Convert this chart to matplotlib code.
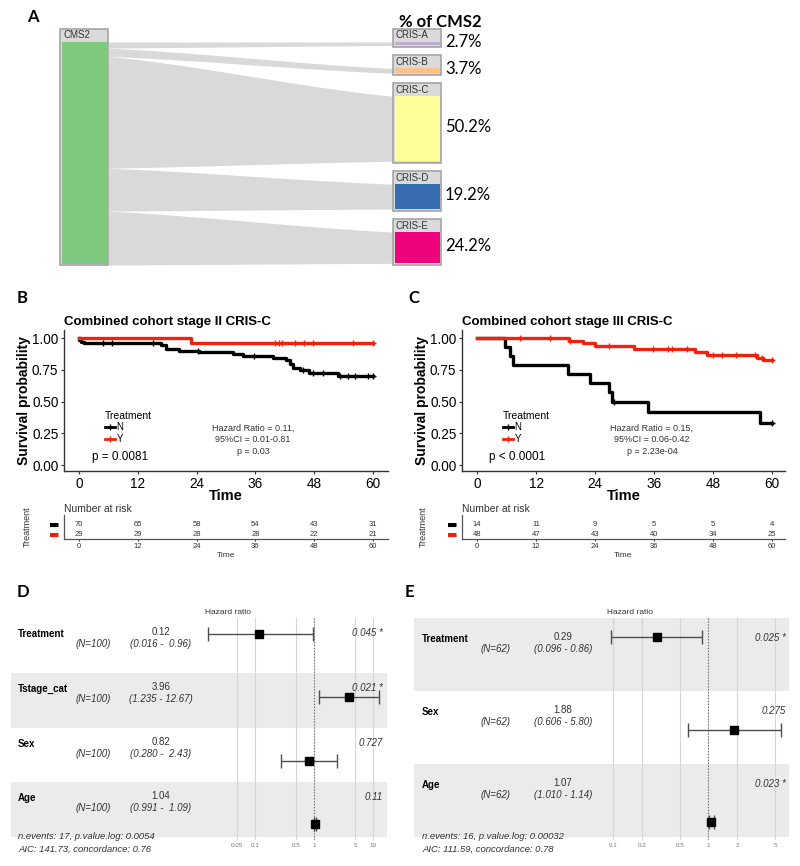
import matplotlib
matplotlib.use('Agg')
import matplotlib.pyplot as plt
import numpy as np
from matplotlib.lines import Line2D
from matplotlib.patches import Rectangle

plt.rcParams['font.family'] = ['Liberation Sans', 'DejaVu Sans']

# ---------------- data ----------------
# panel A: CMS2 -> CRIS split (% of CMS2)
cris_names = ['CRIS-A', 'CRIS-B', 'CRIS-C', 'CRIS-D', 'CRIS-E']
cris_pct = [2.7, 3.7, 50.2, 19.2, 24.2]
cris_colors = ['#BEAED4', '#FDC086', '#FFFF99', '#386CB0', '#F0027F']

# panel B: stage II CRIS-C, KM steps
b_n_t = [0, 0.1, 0.5, 1.0, 16.8, 17.8, 20.5, 24.5, 31.4, 33.5, 39.6, 42.3, 43.0, 43.7, 45.0, 47.0, 52.9, 60]
b_n_s = [1.0, 0.986, 0.971, 0.957, 0.943, 0.914, 0.900, 0.886, 0.871, 0.857, 0.842, 0.826, 0.795, 0.765, 0.745, 0.728, 0.700, 0.700]
b_y_t = [0, 22.9, 60]
b_y_s = [1.0, 0.963, 0.963]
b_n_cens = [4.9, 6.8, 15.1, 24.3, 35.8, 45.7, 47.8, 49.8, 53.2, 54.9, 56.3, 59.0, 60]
b_y_cens = [39.9, 40.9, 41.4, 44.0, 45.9, 47.8, 55.9, 60]
b_risk_n = [70, 65, 58, 54, 43, 31]
b_risk_y = [29, 29, 28, 28, 22, 21]

# panel C: stage III CRIS-C
c_n_t = [0, 5.6, 6.8, 7.3, 18.5, 22.9, 26.9, 27.5, 34.8, 57.6, 60]
c_n_s = [1.0, 0.929, 0.857, 0.786, 0.714, 0.643, 0.571, 0.500, 0.417, 0.333, 0.333]
c_y_t = [0, 18.8, 21.6, 23.9, 31.9, 44.4, 46.8, 56.9, 58.1, 60]
c_y_s = [1.0, 0.979, 0.958, 0.937, 0.914, 0.890, 0.865, 0.843, 0.826, 0.826]
c_n_cens = [27.9, 60]
c_y_cens = [8.8, 14.8, 19.0, 26.8, 35.8, 38.8, 39.7, 42.7, 48.1, 49.8, 52.7, 56.6, 58.0, 60]
c_risk_n = [14, 11, 9, 5, 5, 4]
c_risk_y = [48, 47, 43, 40, 34, 25]

risk_times = [0, 12, 24, 36, 48, 60]

# panel D forest
d_vars = ['Treatment', 'Tstage_cat', 'Sex', 'Age']
d_n = [100, 100, 100, 100]
d_hr = [0.12, 3.96, 0.82, 1.04]
d_lo = [0.016, 1.235, 0.280, 0.991]
d_hi = [0.96, 12.67, 2.43, 1.09]
d_p = ['0.045 *', '0.021 *', '0.727', '0.11']
d_foot = ['n.events: 17, p.value.log: 0.0054', 'AIC: 141.73, concordance: 0.76']
d_ticks = [0.05, 0.1, 0.5, 1, 5, 10]

# panel E forest
e_vars = ['Treatment', 'Sex', 'Age']
e_n = [62, 62, 62]
e_hr = [0.29, 1.88, 1.07]
e_lo = [0.096, 0.606, 1.010]
e_hi = [0.86, 5.80, 1.14]
e_p = ['0.025 *', '0.275', '0.023 *']
e_foot = ['n.events: 16, p.value.log: 0.00032', 'AIC: 111.59, concordance: 0.78']
e_ticks = [0.1, 0.2, 0.5, 1, 2, 5]

RED = '#F4200C'
W, H = 800, 866

fig = plt.figure(figsize=(W / 100, H / 100), dpi=100)
fig.patch.set_facecolor('white')

# pixel-space layers: bg under the data axes (sankey, bands), fg on top (texts)
bg = fig.add_axes([0, 0, 1, 1], zorder=0)
fg = fig.add_axes([0, 0, 1, 1], zorder=5)
for a in (bg, fg):
    a.set_xlim(0, W)
    a.set_ylim(H, 0)
    a.axis('off')
    a.patch.set_alpha(0)


def px_axes(l, t, r, b, z=2):
    a = fig.add_axes([l / W, 1 - b / H, (r - l) / W, (b - t) / H], zorder=z)
    a.patch.set_alpha(0)
    return a


# ---------------- panel A ----------------
hdr = 13
green_top, green_h = 42, 223
lx0, lx1, rx0, rx1 = 60, 108, 393, 441
sl = green_h / sum(cris_pct)
sr = 0.58 * sl

tops = []
y = 29
for p in cris_pct:
    tops.append(y)
    y += hdr + p * sr + 2 + 8

xs = np.linspace(lx1, rx0, 120)
tt = (xs - lx1) / (rx0 - lx1)
ease = 0.7 * tt + 0.3 * (3 * tt ** 2 - 2 * tt ** 3)
cum = green_top
for p, top in zip(cris_pct, tops):
    a0, a1 = cum, cum + p * sl
    b0 = top + hdr
    b1 = b0 + p * sr
    bg.fill_between(xs, a0 + (b0 - a0) * ease, a1 + (b1 - a1) * ease,
                    color='#d9d9d9', lw=0, zorder=1)
    cum = a1

bg.add_patch(Rectangle((lx0, 29), lx1 - lx0, green_top - 29 + green_h, fc='#dadada',
                       ec='#a5a5a5', lw=1.2, zorder=2))
bg.add_patch(Rectangle((lx0 + 1.5, green_top), lx1 - lx0 - 3, green_h - 1.5,
                       fc='#7FC97F', lw=0, zorder=3))
fg.text(lx0 + 3, 35.5, 'CMS2', fontsize=7, color='#333333', va='center')

for name, p, col, top in zip(cris_names, cris_pct, cris_colors, tops):
    h = p * sr
    bg.add_patch(Rectangle((rx0, top), rx1 - rx0, hdr + h + 2, fc='#dadada',
                           ec='#a5a5a5', lw=1.2, zorder=2))
    bg.add_patch(Rectangle((rx0 + 1.5, top + hdr), rx1 - rx0 - 3, h, fc=col, lw=0, zorder=3))
    fg.text(rx0 + 2, top + 6.5, name, fontsize=7, color='#333333', va='center')
    fg.text(rx1 + 4, top + hdr + h / 2 - 1.5, f'{p}%', fontsize=12, family=['Lato', 'DejaVu Sans'],
            va='center', ha='left')

fg.text(440, 22, '% of CMS2', fontsize=12, fontweight='bold', family=['Lato', 'DejaVu Sans'],
        ha='center', va='center')

# panel letters
for lab, x, yy in [('A', 27, 17), ('B', 17, 298), ('C', 408, 298), ('D', 17, 592), ('E', 405, 592)]:
    fg.text(x, yy, lab, fontsize=12, fontweight='bold', family=['Lato', 'DejaVu Sans'],
            ha='left', va='center')


# ---------------- KM panels ----------------
def step_at(t, s, q):
    idx = np.searchsorted(t, q, side='right') - 1
    return np.asarray(s)[idx]


def draw_km(lay, title, nt, ns, yt, ys, ncens, ycens, rn, ry, ptxt, hrtxt):
    ax = px_axes(lay['l'], 330, lay['r'], 471)
    ppm = (lay['x60'] - lay['x0']) / 60.0
    ax.set_xlim(-(lay['x0'] - lay['l']) / ppm, 60 + (lay['r'] - lay['x60']) / ppm)
    ax.set_ylim(-6 / 127, 1 + 8 / 127)
    ax.step(nt, ns, where='post', color='black', lw=2.4, zorder=3)
    ax.step(yt, ys, where='post', color=RED, lw=2.4, zorder=4)
    ax.plot(ncens, step_at(nt, ns, ncens), '+', color='black', ms=5, mew=1.0, zorder=3)
    ax.plot(ycens, step_at(yt, ys, ycens), '+', color=RED, ms=5, mew=1.0, zorder=4)
    for sp in ['top', 'right']:
        ax.spines[sp].set_visible(False)
    for sp in ['left', 'bottom']:
        ax.spines[sp].set_color('#333333')
        ax.spines[sp].set_linewidth(1.0)
    ax.set_xticks(risk_times)
    ax.set_yticks([0, 0.25, 0.5, 0.75, 1.0])
    ax.set_yticklabels(['0.00', '0.25', '0.50', '0.75', '1.00'])
    ax.tick_params(labelsize=9.8, length=2.5, width=0.8, color='#333333', pad=1.5)
    ax.set_xlabel('Time', fontsize=10.5, fontweight='bold', labelpad=-1)
    ax.set_ylabel('Survival probability', fontsize=10, fontweight='bold', labelpad=1)
    fg.text(lay['l'], 322, title, fontsize=9.5, fontweight='bold', va='center', ha='left')

    hand = [Line2D([], [], color='black', lw=2, marker='+', ms=4),
            Line2D([], [], color=RED, lw=2, marker='+', ms=4)]
    ax.legend(hand, ['N', 'Y'], title='Treatment', loc='upper left',
              bbox_to_anchor=(lay['leg_x'], 411), bbox_transform=bg.transData,
              frameon=False, fontsize=7, title_fontsize=7.5, handlelength=1.0,
              handletextpad=0.2, labelspacing=0.15, borderpad=0, borderaxespad=0,
              alignment='left')
    fg.text(lay['p_x'], 457, ptxt, fontsize=8.5, ha='center', va='center')
    fg.text(lay['hr_x'], 440, hrtxt, fontsize=6.5, ha='center', va='center',
            linespacing=1.4, color='#333333')

    # number at risk table
    tb = px_axes(lay['tl'], 515, lay['r'], 539)
    tb.set_xlim(-(lay['x0'] - lay['tl']) / ppm, 60 + (lay['r'] - lay['x60']) / ppm)
    tb.set_ylim(-0.5, 1.9)
    for t, a, b in zip(risk_times, rn, ry):
        tb.text(t, 1, str(a), fontsize=5.5, ha='center', va='center', color='#333333')
        tb.text(t, 0, str(b), fontsize=5.5, ha='center', va='center', color='#333333')
    for sp in ['top', 'right']:
        tb.spines[sp].set_visible(False)
    for sp in ['left', 'bottom']:
        tb.spines[sp].set_color('#555555')
        tb.spines[sp].set_linewidth(0.9)
    tb.set_xticks(risk_times)
    tb.tick_params(axis='x', labelsize=5.5, length=1.5, pad=1.5, colors='#333333')
    tb.set_yticks([1, 0])
    tb.set_yticklabels(['\u25ac', '\u25ac'], family='DejaVu Sans', fontsize=8)
    for lbl, col in zip(tb.get_yticklabels(), ['black', RED]):
        lbl.set_color(col)
    tb.tick_params(axis='y', length=0, pad=3)
    tb.set_xlabel('Time', fontsize=6, labelpad=1, color='#333333')
    fg.text(lay['tl'], 509, 'Number at risk', fontsize=7.5, va='center', ha='left', color='#333333')
    fg.text(lay['tr_x'], 527, 'Treatment', fontsize=6.5, rotation=90, va='center', ha='center',
            color='#333333')


draw_km(dict(l=64, r=388, x0=79, x60=373, tl=64, leg_x=105, p_x=120, hr_x=253, tr_x=27),
        'Combined cohort stage II CRIS-C', b_n_t, b_n_s, b_y_t, b_y_s, b_n_cens, b_y_cens,
        b_risk_n, b_risk_y, 'p = 0.0081',
        'Hazard Ratio = 0.11,\n95%CI = 0.01-0.81\np = 0.03')
draw_km(dict(l=462, r=785, x0=477, x60=772, tl=462, leg_x=503, p_x=517, hr_x=652, tr_x=423),
        'Combined cohort stage III CRIS-C', c_n_t, c_n_s, c_y_t, c_y_s, c_n_cens, c_y_cens,
        c_risk_n, c_risk_y, 'p < 0.0001',
        'Hazard Ratio = 0.15,\n95%CI = 0.06-0.42\np = 2.23e-04')


# ---------------- forest panels ----------------
def draw_forest(lay, names, nn, hr, lo, hi, pv, foot, ticks):
    x0, x1 = lay['band']
    top, rh = 618, lay['row_h']
    n = len(names)
    w = max(len(f'{v:.2f}') for v in hi)
    for i in range(n):
        rt = top + i * rh
        if (n - 1 - i) % 2 == 0:
            bg.add_patch(Rectangle((x0, rt), x1 - x0, rh, fc='#ebebeb', lw=0, zorder=0))
        ey = rt + 0.26 * rh
        fg.text(lay['name_x'], ey + 2, names[i], fontsize=7, fontweight='bold', va='center')
        fg.text(lay['n_x'], ey + 12, f'(N={nn[i]})', fontsize=7, style='italic', ha='right',
                va='center', color='#333333')
        fg.text(lay['est_x'], ey, f'{hr[i]:.2f}', fontsize=7, ha='center', va='center',
                color='#333333')
        fg.text(lay['est_x'], ey + 12, f'({lo[i]:.3f} - {hi[i]:{w}.2f})', fontsize=7,
                style='italic', ha='center', va='center', color='#333333')
        fg.text(lay['p_x'], ey + 1, pv[i], fontsize=7, style='italic', ha='right',
                va='center', color='#333333')
    fg.text(lay['name_x'], 836.5, foot[0], fontsize=6.8, style='italic', va='center',
            color='#333333')
    fg.text(lay['name_x'], 849.5, foot[1], fontsize=6.8, style='italic', va='center',
            color='#333333')
    fg.text(lay['hr_lab_x'], 613, 'Hazard ratio', fontsize=6, ha='center', va='center',
            color='#333333')

    al, ar = lay['ax']
    ax = px_axes(al, 618, ar, 840)
    (va, pa), (vb, pb) = lay['ref']
    ppd = (pb - pa) / (np.log10(vb) - np.log10(va))
    ax.set_xscale('log')
    ax.set_xlim(10 ** (np.log10(va) + (al - pa) / ppd), 10 ** (np.log10(va) + (ar - pa) / ppd))
    m0, ms = lay['m0'], lay['mstep']
    ax.set_ylim((840 - m0) / ms, (618 - m0) / ms)
    yy = np.arange(n)
    hr_a, lo_a, hi_a = np.array(hr), np.array(lo), np.array(hi)
    ax.errorbar(hr_a, yy, xerr=[hr_a - lo_a, hi_a - hr_a], fmt='s', color='black', ms=5.5,
                ecolor='#4d4d4d', elinewidth=1.0, capsize=5, capthick=1.0, zorder=4)
    ax.axvline(1, ls=':', color='#666666', lw=0.8, zorder=2)
    ax.set_xticks(ticks)
    ax.set_xticklabels([f'{v:g}' for v in ticks])
    ax.xaxis.set_minor_locator(matplotlib.ticker.NullLocator())
    ax.grid(axis='x', color='#d6d6d6', lw=0.8, zorder=1)
    ax.set_axisbelow(True)
    ax.set_yticks([])
    ax.tick_params(axis='x', length=0, labelsize=4.5, labelcolor='#777777', pad=2)
    for sp in ax.spines.values():
        sp.set_visible(False)


draw_forest(dict(band=(11, 387), row_h=54.75, name_x=18, n_x=111, est_x=161, p_x=383,
                 hr_lab_x=228, ax=(200, 386), ref=((0.05, 237), (10, 373)), m0=634, mstep=63.3),
            d_vars, d_n, d_hr, d_lo, d_hi, d_p, d_foot, d_ticks)
draw_forest(dict(band=(414, 789), row_h=73, name_x=422, n_x=511, est_x=563, p_x=786,
                 hr_lab_x=630, ax=(600, 789), ref=((0.1, 613), (5, 775)), m0=637, mstep=92.5),
            e_vars, e_n, e_hr, e_lo, e_hi, e_p, e_foot, e_ticks)

fig.savefig('out.png', dpi=100, facecolor='white')
